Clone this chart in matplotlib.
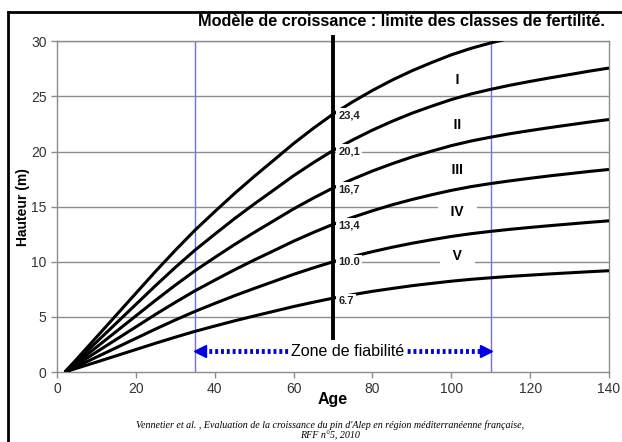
import matplotlib.pyplot as plt
from matplotlib.lines import Line2D

plt.rcParams['font.family'] = ['Liberation Sans', 'DejaVu Sans']

# Growth model: limits of the fertility classes (height in m vs age)
age = [2, 5, 10, 15, 20, 25, 30, 35, 40, 45, 50, 55, 60, 65, 70,
       75, 80, 85, 90, 95, 100, 105, 110, 115, 120, 125, 130, 135, 140]
h_234 = [0, 1.17, 3.16, 5.15, 7.14, 9.13, 11.04, 12.87, 14.55, 16.19, 17.74, 19.23, 20.73, 22.11, 23.40,
         24.52, 25.55, 26.49, 27.33, 28.08, 28.78, 29.37, 29.86, 30.30, 30.70, 31.08, 31.43, 31.78, 32.10]
h_201 = [0, 1.00, 2.71, 4.42, 6.13, 7.84, 9.49, 11.06, 12.50, 13.91, 15.24, 16.52, 17.81, 18.99, 20.10,
         21.06, 21.95, 22.75, 23.48, 24.12, 24.72, 25.23, 25.65, 26.03, 26.37, 26.69, 26.99, 27.30, 27.58]
h_167 = [0, 0.84, 2.25, 3.67, 5.09, 6.51, 7.88, 9.19, 10.39, 11.56, 12.66, 13.73, 14.80, 15.78, 16.70,
         17.50, 18.24, 18.90, 19.51, 20.04, 20.54, 20.96, 21.31, 21.63, 21.91, 22.18, 22.43, 22.68, 22.91]
h_134 = [0, 0.67, 1.81, 2.95, 4.09, 5.23, 6.32, 7.37, 8.33, 9.27, 10.16, 11.01, 11.87, 12.66, 13.40,
         14.04, 14.63, 15.17, 15.65, 16.08, 16.48, 16.82, 17.10, 17.35, 17.58, 17.80, 18.00, 18.20, 18.38]
h_100 = [0, 0.50, 1.35, 2.20, 3.05, 3.90, 4.72, 5.50, 6.22, 6.92, 7.58, 8.22, 8.86, 9.45, 10.00,
         10.48, 10.92, 11.32, 11.68, 12.00, 12.30, 12.55, 12.76, 12.95, 13.12, 13.28, 13.43, 13.58, 13.72]
h_67 = [0, 0.34, 0.90, 1.47, 2.04, 2.61, 3.16, 3.69, 4.17, 4.64, 5.08, 5.51, 5.94, 6.33, 6.70,
        7.02, 7.32, 7.58, 7.83, 8.04, 8.24, 8.41, 8.55, 8.68, 8.79, 8.90, 9.00, 9.10, 9.19]
curves = [h_234, h_201, h_167, h_134, h_100, h_67]

ref_age = 70
ref_labels = ["23,4", "20,1", "16,7", "13,4", "10.0", "6.7"]
ref_values = [23.3, 20.05, 16.6, 13.3, 10.0, 6.4]

classes = ["I", "II", "III", "IV", "V"]
class_y = [26.5, 22.4, 18.3, 14.5, 10.5]
class_x = 101.5

zone_start, zone_end = 35, 110

fig = plt.figure(figsize=(6.22, 4.42), dpi=100)
ax = fig.add_axes([57 / 622, 1 - 372 / 442, 552 / 622, 330.6 / 442])

# gridlines
for yv in range(5, 31, 5):
    ax.axhline(yv, color="#8c8c8c", lw=1, zorder=1)

# reliability zone limits
for xv in (zone_start, zone_end):
    ax.axvline(xv, color="#6f6fff", lw=1, zorder=2)

for h in curves:
    ax.plot(age, h, color="black", lw=2.2, zorder=3, solid_capstyle="butt",
            solid_joinstyle="round")

# reference age line
ax.plot([ref_age, ref_age], [3.1, 30.4], color="black", lw=2.8, zorder=4, clip_on=False)

for lab, v in zip(ref_labels, ref_values):
    ax.text(ref_age + 1.3, v, lab, fontsize=8, fontweight="bold", color="#222222",
            ha="left", va="center", zorder=6,
            bbox=dict(facecolor="white", edgecolor="none", pad=1.5))

for lab, v in zip(classes, class_y):
    ax.text(class_x, v, "   " + lab + "   ", fontsize=10, fontweight="bold", ha="center",
            va="center", zorder=6, bbox=dict(facecolor="white", edgecolor="none", pad=1))

# Zone de fiabilite arrow
zy = 1.9
ax.plot([zone_start + 2, zone_end - 2], [zy, zy], color="#0000e6", lw=3.5,
        linestyle=(0, (0.6, 0.6)), zorder=5)
ax.plot([zone_start + 1.3], [zy], marker="<", color="#0000e6", ms=9, zorder=5)
ax.plot([zone_end - 1.3], [zy], marker=">", color="#0000e6", ms=9, zorder=5)
ax.text(73.8, zy, "Zone de fiabilité", fontsize=11.5, ha="center", va="center",
        zorder=6, bbox=dict(facecolor="white", edgecolor="none", pad=2))

ax.set_xlim(0, 140)
ax.set_ylim(0, 30)
ax.set_xticks(range(0, 141, 20))
ax.set_yticks(range(0, 31, 5))
for s in ax.spines.values():
    s.set_color("#8c8c8c")
    s.set_linewidth(1)
ax.tick_params(colors="#8c8c8c", labelcolor="#333333", labelsize=10, length=4, width=1)

ax.set_xlabel("Age", fontsize=11.5, fontweight="bold", labelpad=-3)
ax.set_ylabel("Hauteur (m)", fontsize=10, fontweight="bold", labelpad=1)
fig.text(402 / 622, 1 - 22 / 442, "Modèle de croissance : limite des classes de fertilité.",
         fontsize=11.7, fontweight="bold", ha="center", va="center")

fig.text(330 / 622, 1 - 425 / 442,
         "Vennetier et al. , Evaluation de la croissance du pin d'Alep en région méditerranéenne française,",
         fontsize=7.2, style="italic", family="Liberation Serif", ha="center", va="center")
fig.text(330 / 622, 1 - 436 / 442, "RFF n°5, 2010",
         fontsize=7.2, style="italic", family="Liberation Serif", ha="center", va="center")

# frame of the original figure
fig.add_artist(Line2D([8 / 622, 1], [1 - 12 / 442, 1 - 12 / 442], color="black", lw=2))
fig.add_artist(Line2D([8 / 622, 8 / 622], [0, 1 - 12 / 442], color="black", lw=2))

fig.savefig("out.png", dpi=100)
